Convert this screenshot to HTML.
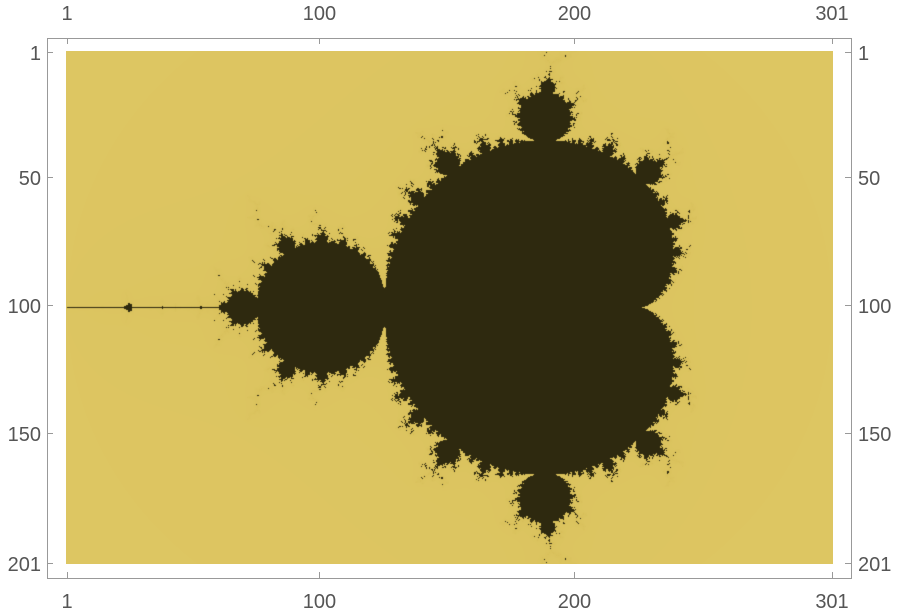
<!DOCTYPE html>
<html><head><meta charset="utf-8"><style>
body{margin:0;background:#fff;width:900px;height:616px;position:relative;overflow:hidden;font-family:"Liberation Sans",sans-serif;}
#frame{position:absolute;left:47px;top:38px;width:803px;height:539px;border:1px solid #999;box-sizing:content-box;}
canvas{position:absolute;left:66px;top:51px;width:767px;height:513px;}
.t{position:absolute;font-size:20px;color:#555;}
.tk{position:absolute;background:#999;}
</style></head><body>
<div id="frame"></div>
<canvas id="c" width="767" height="513"></canvas>
<div id="labels"></div>
<script>
const colTicks=[1,100,200,301];
const rowTicks=[1,50,100,150,201];
const reMin=-2, imMin=-1, step=0.01, maxIter=40;
const W=767,H=513;
const cv=document.getElementById('c'),ctx=cv.getContext('2d');
const img=ctx.createImageData(W,H);
for(let py=0;py<H;py++){for(let px=0;px<W;px++){
 const cr=reMin+((px+0.5)/W*301-0.5)*step, ci=imMin+((py+0.5)/H*201-0.5)*step;
 let x=0,y=0,i=0;
 while(i<maxIter&&x*x+y*y<=4){const t=x*x-y*y+cr;y=2*x*y+ci;x=t;i++;}
 const k=(py*W+px)*4;
 if(i>=maxIter){img.data[k]=46;img.data[k+1]=41;img.data[k+2]=15;}
 else{const f=Math.min(i/maxIter,1);img.data[k]=221-6*f;img.data[k+1]=198-8*f;img.data[k+2]=98-10*f;}
 img.data[k+3]=255;}}
ctx.putImageData(img,0,0);
const L=document.getElementById('labels');
const xs=v=>67+(v-1)*(832-67)/300, ys=v=>52+(v-1)*(563-52)/200;
function add(txt,x,y,align,name){const d=document.createElement('div');d.className='t';d.textContent=txt;


d.style.top=(y-11)+'px';
if(align==='c'){d.style.left=(x-40)+'px';d.style.width='80px';d.style.textAlign='center';}
else if(align==='r'){d.style.left=(x-80)+'px';d.style.width='80px';d.style.textAlign='right';}
else{d.style.left=x+'px';}
L.appendChild(d);}
function tick(x,y,w,h,name){const d=document.createElement('div');d.className='tk';


d.style.left=x+'px';d.style.top=y+'px';d.style.width=w+'px';d.style.height=h+'px';L.appendChild(d);}
colTicks.forEach(v=>{const x=xs(v);add(String(v),x,14,'c','top-tick-label');add(String(v),x,602,'c','bottom-tick-label');
tick(x,38,1,6,'top-tick');tick(x,572,1,6,'bottom-tick');});
rowTicks.forEach(v=>{const y=ys(v);add(String(v),41,y+2,'r','left-tick-label');add(String(v),858,y+2,'l','right-tick-label');
tick(47,y,6,1,'left-tick');tick(845,y,6,1,'right-tick');});
</script>
</body></html>
